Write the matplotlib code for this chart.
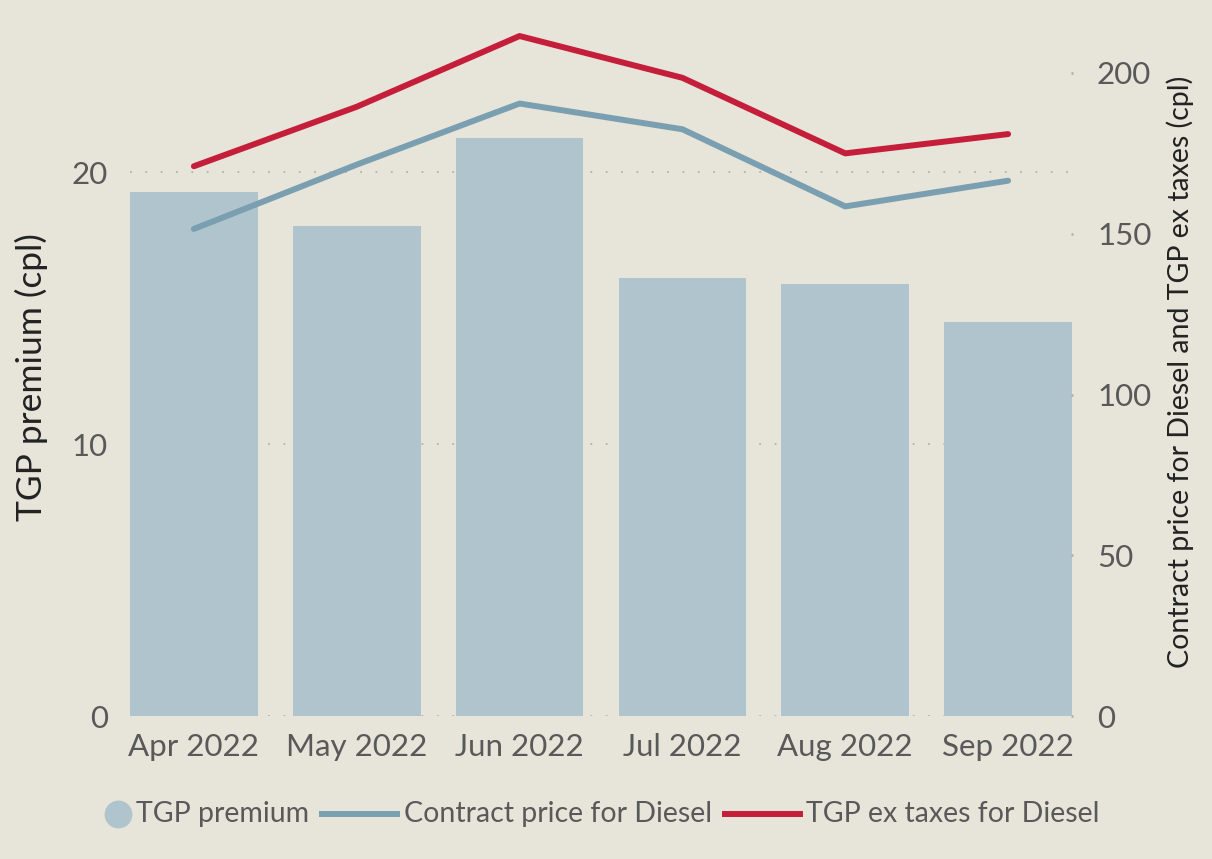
import numpy as np
import matplotlib
matplotlib.use("Agg")
import matplotlib.pyplot as plt
from matplotlib.lines import Line2D

# monthly figures, cents per litre
months = ["Apr 2022", "May 2022", "Jun 2022", "Jul 2022", "Aug 2022", "Sep 2022"]
tgp_premium = [19.25, 18.0, 21.25, 16.1, 15.9, 14.5]
contract_price = [151.5, 171.5, 190.5, 182.5, 158.5, 166.5]
tgp_ex_taxes = [171.0, 189.5, 211.5, 198.5, 175.0, 181.0]
legend_labels = ["TGP premium", "Contract price for Diesel", "TGP ex taxes for Diesel"]

bg = "#E7E4DA"
bar_col = "#B0C4CE"
blue = "#7A9FB0"
red = "#C41E3A"
txt = "#595959"

plt.rcParams['font.family'] = ['Lato', 'DejaVu Sans']

W, H = 1212, 859
fig = plt.figure(figsize=(W / 100, H / 100), dpi=100, facecolor=bg)
ax = fig.add_axes([130 / W, 143 / H, 942 / W, 696 / H])
ax.set_facecolor(bg)
ax2 = ax.twinx()

x = np.arange(len(months))
w = 0.785
ax.bar(x, tgp_premium, width=w, color=bar_col, zorder=2)
ax.set_xlim(-w / 2, len(months) - 1 + w / 2)
ax.set_ylim(0, 696 / 27.2)
ax.set_yticks([0, 10, 20])
for yv in [0, 10, 20]:
    ax.axhline(yv, color="#B5B0B0", lw=1.3, ls=(0, (1, 7.5)), zorder=1)

ax2.plot(x, contract_price, color=blue, lw=4.3, solid_capstyle="round", zorder=3)
ax2.plot(x, tgp_ex_taxes, color=red, lw=4.3, solid_capstyle="round", zorder=3)
ax2.set_ylim(0, 696 / 3.215)
ax2.set_yticks([0, 50, 100, 150, 200])

for a in (ax, ax2):
    for s in a.spines.values():
        s.set_visible(False)

ax.set_xticks(x)
ax.set_xticklabels(months)
ax.tick_params(axis="x", length=0, pad=12, labelsize=22.5, labelcolor=txt)
ax.tick_params(axis="y", length=0, pad=16, labelsize=22.5, labelcolor=txt)
ax2.tick_params(axis="y", length=2, width=2, color="#B5B0B0", direction="inout",
                pad=17, labelsize=22.5, labelcolor=txt)

ax.set_ylabel("TGP premium (cpl)", fontsize=25.5, color="#222222")
ax.yaxis.set_label_coords(-0.087, 0.487)
ax2.set_ylabel("Contract price for Diesel and TGP ex taxes (cpl)", fontsize=20.5,
               color="#222222")
ax2.yaxis.set_label_coords(1.1, 0.495)

# legend row along the bottom, laid out by hand
ly = 1 - 814 / H
fig.add_artist(Line2D([118 / W], [ly], ls="none", marker="o", markersize=19,
                      color=bar_col, transform=fig.transFigure))
fig.text(136 / W, ly, legend_labels[0], fontsize=20.5, color=txt, va="center")
fig.add_artist(Line2D([322 / W, 397 / W], [ly, ly], color=blue, lw=4.3,
                      transform=fig.transFigure))
fig.text(404 / W, ly, legend_labels[1], fontsize=20.5, color=txt, va="center")
fig.add_artist(Line2D([725 / W, 800 / W], [ly, ly], color=red, lw=4.3,
                      transform=fig.transFigure))
fig.text(806 / W, ly, legend_labels[2], fontsize=20.5, color=txt, va="center")

fig.savefig("out.png", dpi=100, facecolor=bg)
